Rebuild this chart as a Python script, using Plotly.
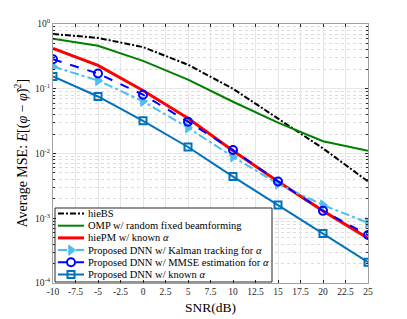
import plotly.graph_objects as go

snr = [-10, -5, 0, 5, 10, 15, 20, 25]
hiebs = [0.70, 0.61, 0.44, 0.235, 0.10, 0.035, 0.012, 0.0037]
omp = [0.59, 0.46, 0.27, 0.138, 0.063, 0.030, 0.0155, 0.011]
hiepm = [0.42, 0.23, 0.094, 0.035, 0.011, 0.0037, 0.0013, 0.00049]
dnn_kalman = [0.22, 0.134, 0.064, 0.025, 0.0089, 0.0034, 0.0016, 0.00085]
dnn_mmse = [0.285, 0.172, 0.081, 0.031, 0.0113, 0.0037, 0.0013, 0.00055]
dnn_known = [0.155, 0.076, 0.032, 0.0126, 0.0044, 0.0016, 0.00058, 0.00021]

x_ticks = [-10, -7.5, -5, -2.5, 0, 2.5, 5, 7.5, 10, 12.5, 15, 17.5, 20, 22.5, 25]
y_ticks = [1e-4, 1e-3, 1e-2, 1e-1, 1e0]
y_ticktext = ["10<sup>-4</sup>", "10<sup>-3</sup>", "10<sup>-2</sup>", "10<sup>-1</sup>", "10<sup>0</sup>"]

names = ["hieBS", "OMP w/ random fixed beamforming", "hiePM w/ known <i>α</i>",
         "Proposed DNN w/ Kalman tracking for <i>α</i>",
         "Proposed DNN w/ MMSE estimation for <i>α</i>",
         "Proposed DNN w/ known <i>α</i>"]
x_title = "SNR(dB)"
y_title = "Average MSE: <i>E</i>[(<i>φ</i> − <i>φ̂</i>)<sup>2</sup>]"

FONT = "Liberation Serif"

styles = [
    dict(line=dict(color="black", width=2, dash="6px,2px,2px,2px"), mode="lines", marker=None),
    dict(line=dict(color="#008000", width=2), mode="lines", marker=None),
    dict(line=dict(color="#ff0000", width=3), mode="lines", marker=None),
    dict(line=dict(color="#4DBEEE", width=2, dash="dashdot"), mode="lines+markers",
         marker=dict(symbol="triangle-right", size=9, color="#4DBEEE",
                     line=dict(color="#4DBEEE", width=1))),
    dict(line=dict(color="#0000ff", width=2, dash="dash"), mode="lines+markers",
         marker=dict(symbol="circle-open", size=8, color="#0000ff",
                     line=dict(color="#0000ff", width=2))),
    dict(line=dict(color="#0072BD", width=2), mode="lines+markers",
         marker=dict(symbol="square-open", size=7, color="#0072BD",
                     line=dict(color="#0072BD", width=2))),
]
series = [hiebs, omp, hiepm, dnn_kalman, dnn_mmse, dnn_known]

fig = go.Figure()
for nm, ys, st in zip(names, series, styles):
    kw = dict(x=snr, y=ys, mode=st["mode"], name=nm, line=st["line"], showlegend=False)
    if st["marker"]:
        kw["marker"] = st["marker"]
    fig.add_trace(go.Scatter(**kw))

# The page body has an 8px default margin; figure is sized/offset to compensate.
OFF = 8
FW, FH = 391, 311
L, R, T, B = 53 - OFF, 368 - OFF, 24 - OFF, 283 - OFF
W, H = R - L, B - T
def fx(px):
    return (px - OFF - L) / W
def fy(py):
    return (B - (py - OFF)) / H

# Manual compact legend (MATLAB-style) on an overlay axis with 0..1 ranges
bx0, bx1, by0, by1 = fx(55), fx(272), fy(282), fy(208)
fig.add_trace(go.Scatter(x=[bx0, bx1, bx1, bx0, bx0], y=[by0, by0, by1, by1, by0],
                         mode="lines", fill="toself", fillcolor="white",
                         line=dict(color="#262626", width=1),
                         xaxis="x2", yaxis="y2", showlegend=False, hoverinfo="skip"))
row0, dy = 213.5, 12.2
for i, (nm, st) in enumerate(zip(names, styles)):
    yy = fy(row0 + dy * i)
    fig.add_trace(go.Scatter(x=[fx(58), fx(84)], y=[yy, yy], mode="lines",
                             line=st["line"], xaxis="x2", yaxis="y2",
                             showlegend=False, hoverinfo="skip"))
    if st["marker"]:
        fig.add_trace(go.Scatter(x=[fx(71)], y=[yy], mode="markers",
                                 marker=st["marker"], xaxis="x2", yaxis="y2",
                                 showlegend=False, hoverinfo="skip"))
    fig.add_annotation(x=fx(86), y=yy, xref="x2", yref="y2", text=nm,
                       showarrow=False, xanchor="left", yanchor="middle",
                       font=dict(family=FONT, size=10.5, color="black"))

# Axis titles as annotations (placed like the MATLAB labels)
fig.add_annotation(x=0.5, y=fy(307), xref="paper", yref="paper", text=x_title,
                   showarrow=False, xanchor="center", yanchor="middle",
                   font=dict(family=FONT, size=13.5, color="black"))
fig.add_annotation(x=fx(22), y=0.5, xref="paper", yref="paper", text=y_title,
                   showarrow=False, xanchor="center", yanchor="middle", textangle=-90,
                   font=dict(family=FONT, size=14, color="black"))

fig.update_layout(
    width=FW, height=FH,
    margin=dict(l=L, r=FW - R, t=T, b=FH - B),
    paper_bgcolor="white", plot_bgcolor="white",
    font=dict(family=FONT, size=10, color="#262626"),
    showlegend=False,
    xaxis2=dict(overlaying="x", range=[0, 1], visible=False, fixedrange=True),
    yaxis2=dict(overlaying="y", range=[0, 1], visible=False, fixedrange=True),
)
fig.update_layout(xaxis=dict(
    range=[-10, 25], tickvals=x_ticks,
    ticktext=[("%g" % v) for v in x_ticks],
    showgrid=True, gridcolor="#e6e6e6", gridwidth=1,
    ticks="inside", ticklen=3, tickcolor="#262626",
    showline=True, linecolor="#a0a0a0", linewidth=1, mirror="ticks",
    tickfont=dict(size=9.5), zeroline=False, automargin=False,
))
fig.update_layout(yaxis=dict(
    type="log", range=[-4, 0], tickvals=y_ticks, ticktext=y_ticktext,
    showgrid=True, gridcolor="#e6e6e6", gridwidth=1,
    ticks="inside", ticklen=3, tickcolor="#262626",
    showline=True, linecolor="#a0a0a0", linewidth=1, mirror="ticks",
    tickfont=dict(size=9.5), zeroline=False, automargin=False,
    minor=dict(showgrid=True, gridcolor="#dcdcdc", griddash="dot", dtick="D1",
               ticks="inside", ticklen=2, tickcolor="#262626"),
))

fig.write_html("out.html")
